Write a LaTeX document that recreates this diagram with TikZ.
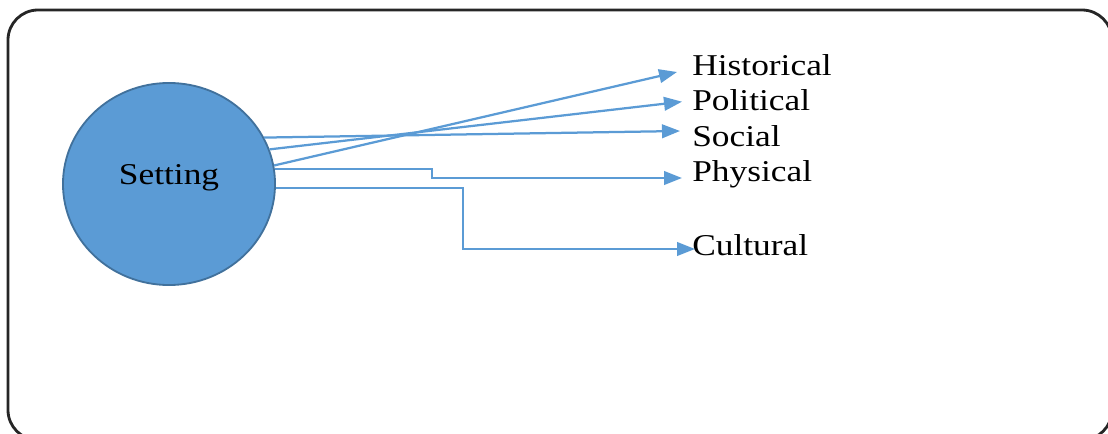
\documentclass[tikz,border=0pt]{standalone}
\usepackage{fontspec}
\newfontfamily\lblfont[FakeStretch=1.17]{Liberation Serif}
\usepackage{tikz}
\usetikzlibrary{shapes.geometric, positioning, arrows.meta}
\definecolor{setblue}{HTML}{5B9BD5}
\definecolor{setedge}{HTML}{41719C}
\definecolor{framegray}{HTML}{262626}

\begin{document}
\begin{tikzpicture}[x=0.025cm, y=-0.025cm,
    lbl/.style={anchor=base west, inner sep=0pt, font=\lblfont\fontsize{21.5}{24}\selectfont},
    conn/.style={draw=setblue, line width=1.6pt, -{Triangle[length=0.45cm, width=0.34cm]}}]
            % Frame
            \clip (0,0) rectangle (1108,433);
            \draw[framegray, line width=2pt, rounded corners=0.75cm] (8,10) rectangle (1112,440);

            % Setting circle
            \node[ellipse, draw=setedge, fill=setblue, line width=1.3pt, inner sep=0pt,
                  minimum width=5.3cm, minimum height=5.05cm] (set) at (169,184) {};
            \node[lbl, anchor=base] (settxt) at (169,184) {Setting};

            % Aspects
            \node[lbl] (hist) at (692,75) {Historical};
            \node[lbl] (pol) at (692,110.7) {Political};
            \node[lbl] (soc) at (692,146) {Social};
            \node[lbl] (phys) at (692,181.7) {Physical};
            \node[lbl] (cult) at (692,255) {Cultural};

            % Arrows
            \draw[conn] (set.10) -- ([shift={(-15,-3)}]hist.base west);
            \draw[conn] (set.19) -- ([shift={(-10,-9)}]pol.base west);
            \draw[conn] (set.26) -- ([shift={(-12,-15)}]soc.base west);
            \draw[conn] (set.8) -| (432,178) -- ([shift={(-10,-3.7)}]phys.base west);
            \draw[conn] (set.-2) -| (463,249) -- ([shift={(3,-6)}]cult.base west);
        \end{tikzpicture}
\end{document}
